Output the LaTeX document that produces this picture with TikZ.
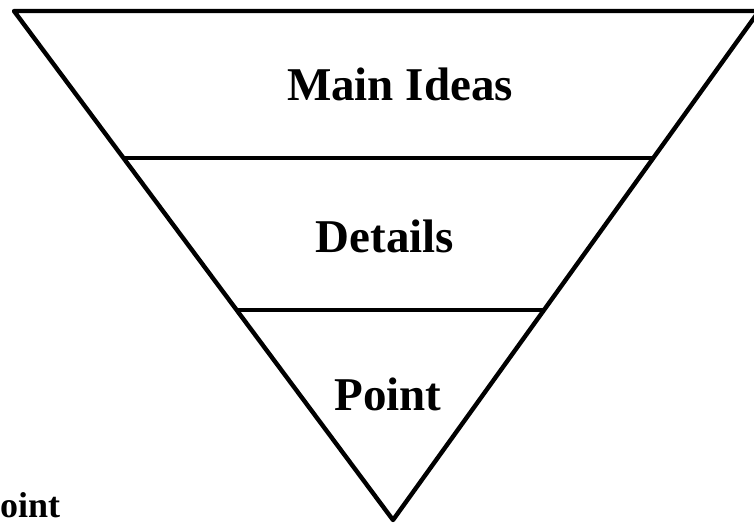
\documentclass[tikz,border=0pt]{standalone}
\usepackage{fontspec}
\setmainfont{Liberation Serif}
\usetikzlibrary{calc}
\tikzset{
  edge/.style={line width=4.4pt, line join=round, line cap=round},
  divider/.style={line width=3.4pt},
  label/.style={font=\fontsize{47}{50}\selectfont\bfseries, inner sep=0pt, anchor=base},
  cutlabel/.style={font=\fontsize{36}{40}\selectfont\bfseries, inner sep=0pt, anchor=base west}
}
\begin{document}
\begin{tikzpicture}[x=1pt,y=1pt]
\useasboundingbox (0,0) rectangle (754,-523);
\coordinate (A) at (14,-11);
\coordinate (B) at (759,-11);
\coordinate (C) at (393,-520);
\draw[edge] (C) -- (A) -- (B) -- cycle;
\coordinate (L1) at ($(A)!0.2888!(C)$);
\coordinate (R1) at ($(B)!0.2888!(C)$);
\coordinate (L2) at ($(A)!0.5874!(C)$);
\coordinate (R2) at ($(B)!0.5874!(C)$);
\draw[divider] (L1) -- (R1);
\draw[divider] (L2) -- (R2);
\node[label] (main) at (400,-100) {Main Ideas};
\node[label] (det) at (385,-252) {Details};
\node[label] (pt) at (388,-410) {Point};
\node[cutlabel] (oint) at (0,-517) {oint};
\end{tikzpicture}
\end{document}
